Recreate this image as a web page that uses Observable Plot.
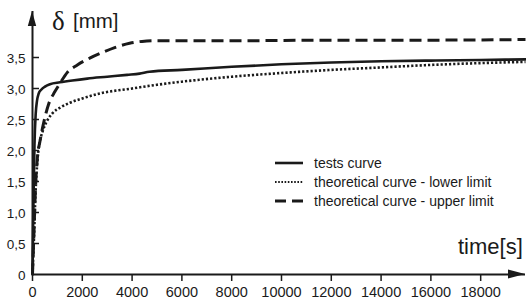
<!DOCTYPE html>
<html>
<head>
<meta charset="utf-8">
<script src="https://cdn.jsdelivr.net/npm/d3@7"></script>
<script src="https://cdn.jsdelivr.net/npm/@observablehq/plot@0.6"></script>
<style>
  html, body { margin: 0; padding: 0; background: #fff; }
  #chart { position: relative; width: 526px; height: 305px; }
</style>
</head>
<body>
<div id="chart"></div>
<script>
// ---- data ----
const xTicks = [0, 2000, 4000, 6000, 8000, 10000, 12000, 14000, 16000, 18000];
const yTicks = [0, 0.5, 1.0, 1.5, 2.0, 2.5, 3.0, 3.5];
const yTickLabels = ["0", "0,5", "1,0", "1,5", "2,0", "2,5", "3,0", "3,5"];

const seriesNames = ["tests curve", "theoretical curve - lower limit", "theoretical curve - upper limit"];

const testsTime  = [0, 40, 80, 130, 180, 250, 350, 500, 700, 1100, 1600, 2200, 3000, 3800, 4300, 4700, 6000, 8000, 10000, 12000, 14000, 16000, 18000, 19800];
const testsDelta = [0, 1.2, 2.1, 2.6, 2.8, 2.92, 2.98, 3.03, 3.07, 3.1, 3.13, 3.16, 3.19, 3.22, 3.24, 3.27, 3.3, 3.35, 3.39, 3.42, 3.44, 3.45, 3.46, 3.47];

const lowerTime  = [0, 60, 120, 200, 300, 400, 560, 800, 1150, 1500, 2000, 2700, 4000, 5000, 6000, 8000, 10000, 12000, 14000, 16000, 18000, 19800];
const lowerDelta = [0, 0.6, 1.3, 1.85, 2.15, 2.3, 2.46, 2.6, 2.7, 2.77, 2.84, 2.92, 3.0, 3.06, 3.11, 3.19, 3.25, 3.3, 3.34, 3.38, 3.41, 3.43];

const upperTime  = [0, 60, 120, 200, 300, 450, 650, 900, 1100, 1400, 1800, 2300, 2800, 3300, 3900, 4400, 5000, 8000, 12000, 16000, 19800];
const upperDelta = [0, 0.7, 1.4, 1.9, 2.15, 2.45, 2.75, 2.95, 3.08, 3.26, 3.38, 3.49, 3.58, 3.66, 3.73, 3.76, 3.77, 3.77, 3.78, 3.78, 3.79];

const xMax = 19800;
const yMax = 4.242;

// ---- build tables ----
const toRows = (ts, vs) => ts.map((t, i) => ({t, v: vs[i]}));
const tests = toRows(testsTime, testsDelta);
const lower = toRows(lowerTime, lowerDelta);
const upper = toRows(upperTime, upperDelta);

const ink = "#1a1a1a";
const W = 526, H = 305, mL = 32, mR = 1, mT = 11, mB = 31;

const plot = Plot.plot({
  width: W, height: H,
  marginLeft: mL, marginRight: mR, marginTop: mT, marginBottom: mB,
  x: {domain: [0, xMax]},
  y: {domain: [0, yMax]},
  style: {fontFamily: "'Liberation Sans', Arial, sans-serif", color: ink, background: "#fff", overflow: "visible"},
  marks: [
    Plot.axisX(xTicks, {tickSize: 7, tickPadding: 5, fontSize: 14.5, strokeWidth: 1.5, label: null, tickFormat: d => String(d)}),
    Plot.axisY(yTicks, {tickSize: 0, tickPadding: 7, fontSize: 13.5, dy: 1.5, label: null, tickFormat: d => yTickLabels[yTicks.indexOf(d)]}),
    Plot.tickY(yTicks.slice(1), {y: d => d, insetRight: W - mL - mR - 7, stroke: ink, strokeWidth: 1.5}),
    Plot.ruleY([0], {stroke: ink, strokeWidth: 2}),
    Plot.ruleX([0], {stroke: ink, strokeWidth: 2}),
    Plot.line(lower, {x: "t", y: "v", stroke: ink, strokeWidth: 2.6, strokeDasharray: "2.2,2", strokeLinecap: "butt", curve: "monotone-x"}),
    Plot.line(upper, {x: "t", y: "v", stroke: ink, strokeWidth: 3, strokeDasharray: "12,6", strokeLinecap: "butt", curve: "monotone-x"}),
    Plot.line(tests, {x: "t", y: "v", stroke: ink, strokeWidth: 2.6, curve: "monotone-x"})
  ]
});

document.getElementById("chart").appendChild(plot);

// ---- axis arrowheads (positioned through the plot's own scales) ----
const sx = plot.scale("x"), sy = plot.scale("y");
const svg = d3.select(plot);
const ax0 = sx.apply(0), ay0 = sy.apply(0), axTop = sy.apply(yMax), axRight = sx.apply(xMax);
svg.append("path")
  .attr("d", `M${ax0},${axTop} L${ax0 + 4.2},${axTop + 15} L${ax0 - 4.2},${axTop + 15} Z`)
  .attr("fill", ink);
svg.append("path")
  .attr("d", `M${axRight},${ay0} L${axRight - 17},${ay0 - 4.6} L${axRight - 17},${ay0 + 4.6} Z`)
  .attr("fill", ink);

// ---- annotations: axis titles and legend ----
const ann = svg.append("g").attr("fill", ink).attr("text-anchor", "start");

ann.append("text").attr("x", 52).attr("y", 30)
  .style("font-family", "'Liberation Serif', 'Times New Roman', serif").style("font-size", "27px")
  .text("δ");
ann.append("text").attr("x", 73).attr("y", 28)
  .style("font-family", "'Liberation Sans', Arial, sans-serif").style("font-size", "20.5px")
  .text("[mm]");

ann.append("text").attr("x", 458).attr("y", 254)
  .style("font-family", "'Liberation Sans', Arial, sans-serif").style("font-size", "22px")
  .text("time[s]");

const legendStyles = [
  {dash: null, width: 2.6},
  {dash: "1.6,1.6", width: 1.8},
  {dash: "11,6", width: 3}
];
seriesNames.forEach((name, i) => {
  const y = 163 + i * 19;
  const s = legendStyles[i];
  const ln = ann.append("line").attr("x1", 275).attr("x2", 303).attr("y1", y).attr("y2", y)
    .attr("stroke", ink).attr("stroke-width", s.width).attr("stroke-linecap", "butt");
  if (s.dash) ln.attr("stroke-dasharray", s.dash);
  ann.append("text").attr("x", 314).attr("y", y + 4.5)
    .style("font-family", "'Liberation Sans', Arial, sans-serif").style("font-size", "14px")
    .text(name);
});
</script>
</body>
</html>
